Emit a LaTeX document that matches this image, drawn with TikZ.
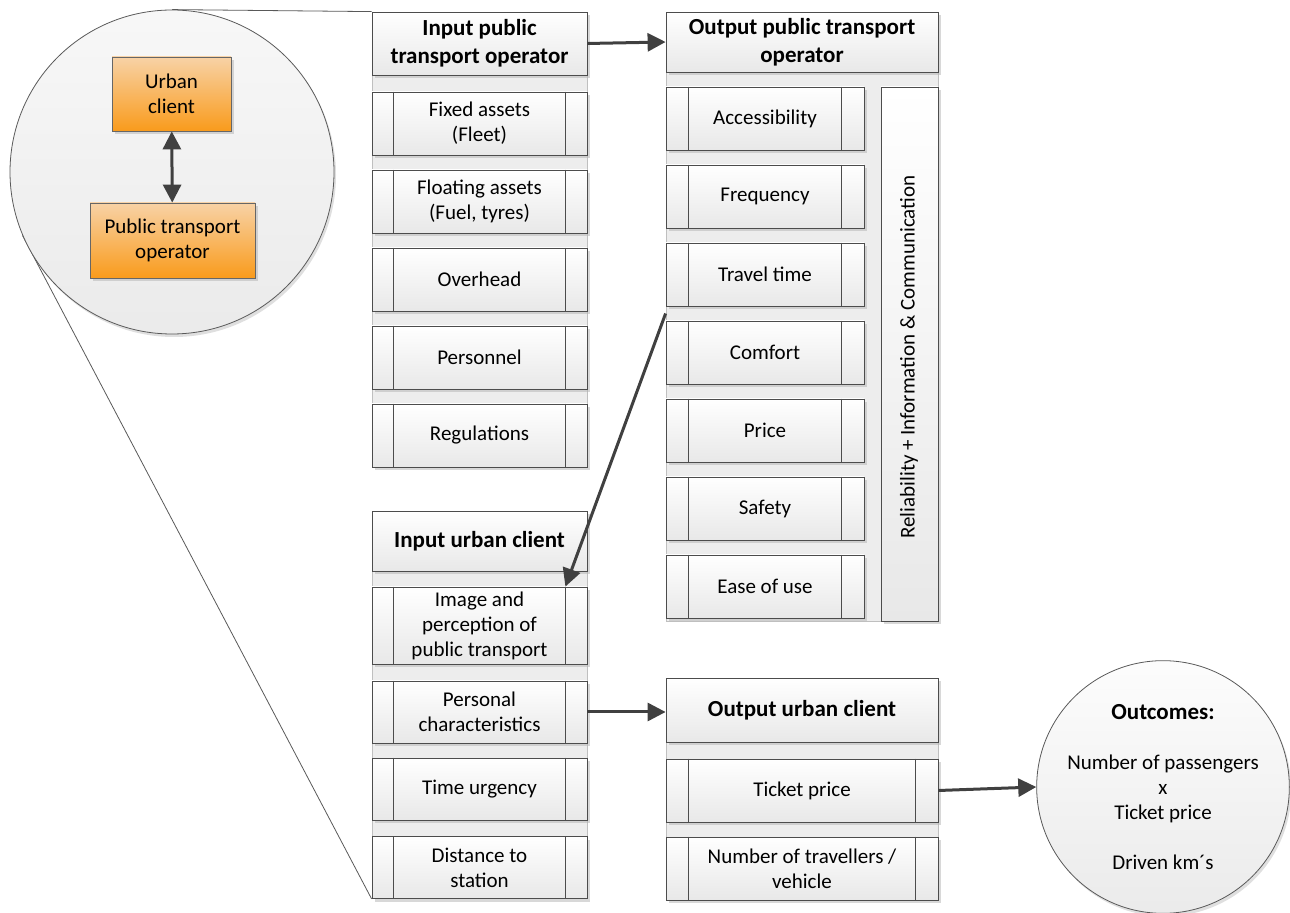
\documentclass[tikz,border=0pt]{standalone}
\usepackage{fontspec}
\setmainfont{Carlito}
\usetikzlibrary{calc,arrows.meta,shadows}
\definecolor{vorange}{RGB}{249,155,28}
\definecolor{vpale}{RGB}{248,210,166}
\pgfdeclarelayer{background}
\pgfsetlayers{background,main}
\def\sidebars(#1)(#2){\draw[bar] ($(#1.north west)+(#2,0)$) -- ($(#1.south west)+(#2,0)$); \draw[bar] ($(#1.north east)+(-#2,0)$) -- ($(#1.south east)+(-#2,0)$);}

\begin{document}
\begin{tikzpicture}[x=0.5pt,y=-0.5pt,
	box/.style={draw=black!70, line width=0.4pt, top color=white, bottom color=black!9, inner sep=0pt, align=center, font=\fontsize{10.5}{12.5}\selectfont, drop shadow={shadow xshift=1.5pt, shadow yshift=-1.5pt, fill=black!30, opacity=0.5}},
	head/.style={box, font=\bfseries\fontsize{11.5}{14}\selectfont},
	bar/.style={draw=black!70, line width=0.4pt},
	tray/.style={draw=black!25, fill=black!7, line width=0.4pt},
	link/.style={draw=black!75, line width=1.5pt, -{Triangle[length=9pt,width=9pt]}},
	orangebox/.style={box, top color=vpale, bottom color=vorange, draw=black!60},
	zoomline/.style={draw=black!65, line width=0.4pt}]
		%%%%% START %%%%%
		
		\useasboundingbox (0,0) rectangle (1290,913);
		
		\draw[tray] (372,12) rectangle (587,467);
		\draw[tray] (666,12) rectangle (938,621);
		\draw[tray] (372,511) rectangle (587,898);
		\draw[tray] (666,678) rectangle (938,900);
		
		% input public transport operator
		\node[head, minimum width=107.5pt, minimum height=31.5pt] (iptoh) at (479.5,43.5) {Input public\\transport operator};
		\node[box, minimum width=107.5pt, minimum height=31.5pt] (fixed) at (479.5,123.5) {Fixed assets\\(Fleet)};
		\node[box, minimum width=107.5pt, minimum height=31.5pt] (floating) at (479.5,201.5) {Floating assets\\(Fuel, tyres)};
		\node[box, minimum width=107.5pt, minimum height=31.5pt] (overhead) at (479.5,279.5) {Overhead};
		\node[box, minimum width=107.5pt, minimum height=31.5pt] (personnel) at (479.5,357.5) {Personnel};
		\node[box, minimum width=107.5pt, minimum height=31.5pt] (regul) at (479.5,435.5) {Regulations};
		\sidebars(fixed)(22)
		\sidebars(floating)(22)
		\sidebars(overhead)(22)
		\sidebars(personnel)(22)
		\sidebars(regul)(22)
		
		% output public transport operator
		\node[head, minimum width=136pt, minimum height=30pt] (optoh) at (802,42) {Output public transport\\operator};
		\node[box, minimum width=99pt, minimum height=31.5pt] (access) at (765,118.5) {Accessibility};
		\node[box, minimum width=99pt, minimum height=31.5pt] (freq) at (765,196.5) {Frequency};
		\node[box, minimum width=99pt, minimum height=31.5pt] (ttime) at (765,274.5) {Travel time};
		\node[box, minimum width=99pt, minimum height=31.5pt] (comfort) at (765,352.5) {Comfort};
		\node[box, minimum width=99pt, minimum height=31.5pt] (price) at (765,430.5) {Price};
		\node[box, minimum width=99pt, minimum height=31.5pt] (safety) at (765,508.5) {Safety};
		\node[box, minimum width=99pt, minimum height=31.5pt] (ease) at (765,586.5) {Ease of use};
		\sidebars(access)(23)
		\sidebars(freq)(23)
		\sidebars(ttime)(23)
		\sidebars(comfort)(23)
		\sidebars(price)(23)
		\sidebars(safety)(23)
		\sidebars(ease)(23)
		\node[box, minimum width=28.5pt, minimum height=267pt] (relia) at (909.5,354) {};
		\node[rotate=90, font=\fontsize{10.5}{12.5}\selectfont] (reliatext) at (909,357) {Reliability + Information \& Communication};
		
		% input urban client
		\node[head, minimum width=107.5pt, minimum height=30pt] (iuch) at (479.5,541) {Input urban client};
		\node[box, minimum width=107.5pt, minimum height=38.5pt] (image) at (479.5,625.5) {Image and\\perception of\\public transport};
		\node[box, minimum width=107.5pt, minimum height=31pt] (person) at (479.5,712) {Personal\\characteristics};
		\node[box, minimum width=107.5pt, minimum height=31pt] (urgency) at (479.5,789) {Time urgency};
		\node[box, minimum width=107.5pt, minimum height=31pt] (distance) at (479.5,867.5) {Distance to\\station};
		\sidebars(image)(22)
		\sidebars(person)(22)
		\sidebars(urgency)(22)
		\sidebars(distance)(22)
		
		% output urban client
		\node[head, minimum width=136pt, minimum height=32pt] (ouch) at (802,710) {Output urban client};
		\node[box, minimum width=136pt, minimum height=31.5pt] (ticket) at (802,790.5) {Ticket price};
		\node[box, minimum width=136pt, minimum height=31.5pt] (vehicle) at (802,868.5) {Number of travellers /\\vehicle};
		\sidebars(ticket)(23)
		\sidebars(vehicle)(23)
		
		% zoom circle
		\node[circle, draw=black!65, line width=0.4pt, top color=black!3, bottom color=black!8, minimum size=162pt, inner sep=0pt, drop shadow={shadow xshift=1pt, shadow yshift=-1.5pt, fill=black!25, opacity=0.5}] (lens) at (172,172) {};
		\node[orangebox, minimum width=59.5pt, minimum height=37pt] (urban) at (171.5,94) {Urban\\client};
		\node[orangebox, minimum width=82.5pt, minimum height=37.5pt] (operator) at (172.5,240.5) {Public transport\\operator};
		\draw[link, {Triangle[length=9pt,width=9pt]}-{Triangle[length=9pt,width=9pt]}] (urban) -- (operator);
		
		\begin{pgfonlayer}{background}
		\draw[zoomline] (lens.north) -- (iptoh.north west);
		\draw[zoomline] (lens.203) -- (distance.south west);
		\end{pgfonlayer}
		
		% outcomes
		\node[circle, draw=black!65, line width=0.4pt, top color=black!1, bottom color=black!8, minimum size=126pt, inner sep=0pt, align=center, font=\fontsize{10.5}{12.5}\selectfont, drop shadow={shadow xshift=1pt, shadow yshift=-1.5pt, fill=black!25, opacity=0.5}] (outcome) at (1163,787) {{\bfseries\fontsize{11.5}{14}\selectfont Outcomes:}\\[12.5pt]Number of passengers\\x\\Ticket price\\[12.5pt]Driven km´s};
		
		% arrows
		\coordinate (bend) at ($(ttime.south west)!0.5!(comfort.north west)$);
		\draw[link] (iptoh.east) -- (optoh.west);
		\draw[link] (bend) -- ($(image.north east)+(-22,0)$);
		\draw[link] (person.east) -- (person.east -| ouch.west);
		\draw[link] (ticket.east) -- (outcome.west);
		
		%%%%% END %%%%%
\end{tikzpicture}
\end{document}
